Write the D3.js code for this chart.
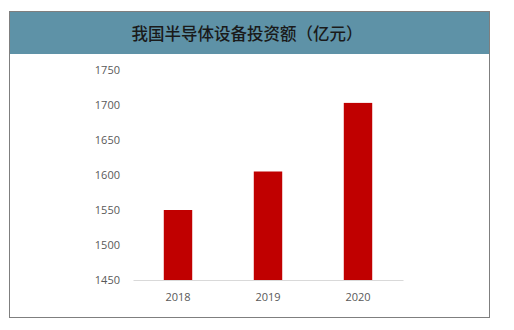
<!DOCTYPE html>
<html>
<head>
<meta charset="utf-8">
<script src="https://cdn.jsdelivr.net/npm/d3@7"></script>
<style>
  html, body { margin: 0; padding: 0; background: #ffffff; }
  svg { display: block; }
</style>
</head>
<body>
<svg id="chart" width="514" height="330"></svg>
<script>
// Chart data
const title = "我国半导体设备投资额（亿元）";
const years = ["2018", "2019", "2020"];
const investment = [1550, 1605, 1703];
const yTicks = [1450, 1500, 1550, 1600, 1650, 1700, 1750];

const svg = d3.select("#chart");

// Frame and title band
const frame = { left: 9.5, top: 11.5, right: 489.5, bottom: 317.5 };
const headerBottom = 54;

svg.append("rect")
  .attr("x", frame.left).attr("y", frame.top)
  .attr("width", frame.right - frame.left)
  .attr("height", frame.bottom - frame.top)
  .attr("fill", "#ffffff")
  .attr("stroke", "#7f7f7f")
  .attr("stroke-width", 1);

svg.append("rect")
  .attr("x", frame.left + 0.5).attr("y", frame.top + 0.5)
  .attr("width", frame.right - frame.left - 1)
  .attr("height", headerBottom - frame.top - 0.5)
  .attr("fill", "#5e92a7");

svg.append("text")
  .attr("x", 247).attr("y", 33)
  .attr("text-anchor", "middle")
  .attr("dominant-baseline", "central")
  .attr("font-family", "'Noto Sans CJK SC', sans-serif")
  .attr("font-size", 16.5)
  .attr("font-weight", 500)
  .attr("fill", "#1a1a1a")
  .text(title);

// Plot area
const plot = { left: 133, right: 403, top: 70, bottom: 280 };

const x = d3.scaleBand()
  .domain(years)
  .range([plot.left, plot.right])
  .paddingInner(0.684)
  .paddingOuter(0.342);

const y = d3.scaleLinear()
  .domain([1450, 1750])
  .range([plot.bottom, plot.top]);

// Y axis labels (no axis line)
const yAxis = d3.axisLeft(y).tickValues(yTicks).tickFormat(d3.format("d"))
  .tickSize(0).tickPadding(0);
const gy = svg.append("g")
  .attr("transform", `translate(${plot.left - 13},0)`)
  .call(yAxis);
gy.select(".domain").remove();
gy.selectAll("text")
  .attr("font-family", "'Open Sans', sans-serif")
  .attr("font-size", 11)
  .attr("fill", "#595959");

// Bars
svg.append("g").selectAll("rect")
  .data(years)
  .join("rect")
  .attr("x", d => x(d))
  .attr("y", (d, i) => y(investment[i]))
  .attr("width", x.bandwidth())
  .attr("height", (d, i) => y(1450) - y(investment[i]))
  .attr("fill", "#c00000");

// X axis baseline and labels
const xAxis = d3.axisBottom(x).tickSize(0).tickPadding(13);
const gx = svg.append("g")
  .attr("transform", `translate(0,${plot.bottom})`)
  .call(xAxis);
gx.select(".domain")
  .attr("stroke", "#d9d9d9")
  .attr("stroke-width", 1.2);
gx.selectAll("text")
  .attr("font-family", "'Open Sans', sans-serif")
  .attr("font-size", 11)
  .attr("fill", "#595959");
</script>
</body>
</html>
